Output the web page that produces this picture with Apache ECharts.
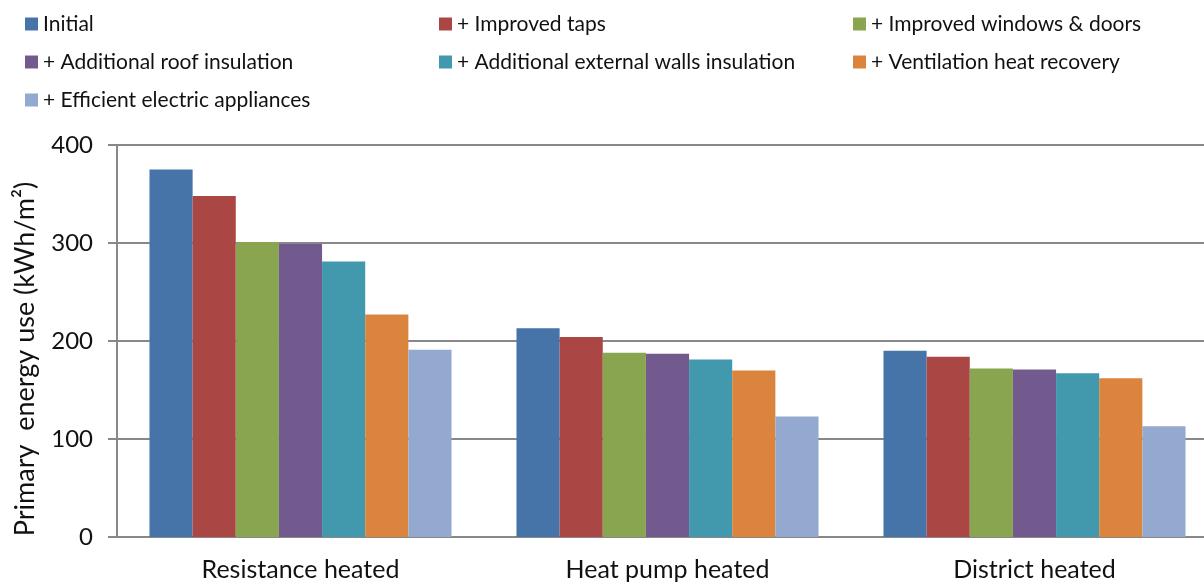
<!DOCTYPE html>
<html>
<head>
<meta charset="utf-8">
<script src="https://cdn.jsdelivr.net/npm/echarts@6/dist/echarts.min.js"></script>
<style>
  html, body { margin: 0; padding: 0; background: #fff; }
  #chart { width: 1204px; height: 583px; }
</style>
</head>
<body>
<div id="chart"></div>
<script>
// data
var categories = ['Resistance heated', 'Heat pump heated', 'District heated'];
var seriesNames = [
  'Initial',
  '+ Improved taps',
  '+ Improved windows & doors',
  '+ Additional roof insulation',
  '+ Additional external walls insulation',
  '+ Ventilation heat recovery',
  '+ Efficient electric appliances'
];
var initial      = [375, 213, 190];
var taps         = [348, 204, 184];
var windows      = [301, 188, 172];
var roof         = [299, 187, 171];
var walls        = [281, 181, 167];
var ventilation  = [227, 170, 162];
var appliances   = [191, 123, 113];
var yTicks = [0, 100, 200, 300, 400];

var colors = ['#4673a8', '#aa4744', '#8aa54f', '#725a8e', '#4299ae', '#db843e', '#93a9d0'];
var values = [initial, taps, windows, roof, walls, ventilation, appliances];

var myChart = echarts.init(document.getElementById('chart'));
var font = 'Lato, "Open Sans", sans-serif';

// one legend block per column, like the original 3-column layout
function legendCol(left, names) {
  return {
    left: left,
    top: 13,
    padding: 0,
    orient: 'vertical',
    icon: 'rect',
    itemWidth: 13,
    itemHeight: 13,
    itemGap: 16,
    data: names,
    textStyle: { fontFamily: font, fontSize: 21, lineHeight: 22, color: '#111' },
    selectedMode: false
  };
}

var option = {
  animation: false,
  color: colors,
  legend: [
    legendCol(25, [seriesNames[0], seriesNames[3], seriesNames[6]]),
    legendCol(439, [seriesNames[1], seriesNames[4]]),
    legendCol(853, [seriesNames[2], seriesNames[5]])
  ],
  // plot runs past the right edge (cropped in the original)
  grid: { left: 117, width: 1101, top: 145, bottom: 46, outerBoundsMode: 'none', containLabel: false },
  xAxis: {
    type: 'category',
    data: categories,
    axisLine: { lineStyle: { color: '#888', width: 2 } },
    axisTick: { length: 8, lineStyle: { color: '#888', width: 2 } },
    axisLabel: { fontFamily: font, fontSize: 25, color: '#111', margin: 20 }
  },
  yAxis: {
    type: 'value',
    min: yTicks[0],
    max: yTicks[yTicks.length - 1],
    interval: 100,
    name: 'Primary  energy use (kWh/m\u00b2)',
    nameLocation: 'middle',
    nameGap: 78,
    nameTextStyle: { fontFamily: font, fontSize: 27, color: '#111', padding: [0, 36, 0, 0] },
    axisLine: { show: true, lineStyle: { color: '#888', width: 2 } },
    axisTick: { show: true, length: 9, lineStyle: { color: '#888', width: 2 } },
    axisLabel: { fontFamily: font, fontSize: 24, color: '#111', margin: 24 },
    splitLine: { lineStyle: { color: '#888', width: 2 } }
  },
  series: seriesNames.map(function (n, i) {
    return {
      name: n,
      type: 'bar',
      data: values[i],
      barGap: '0%',
      barCategoryGap: '17.7%',
      itemStyle: { color: colors[i] }
    };
  })
};

myChart.setOption(option);
</script>
</body>
</html>
